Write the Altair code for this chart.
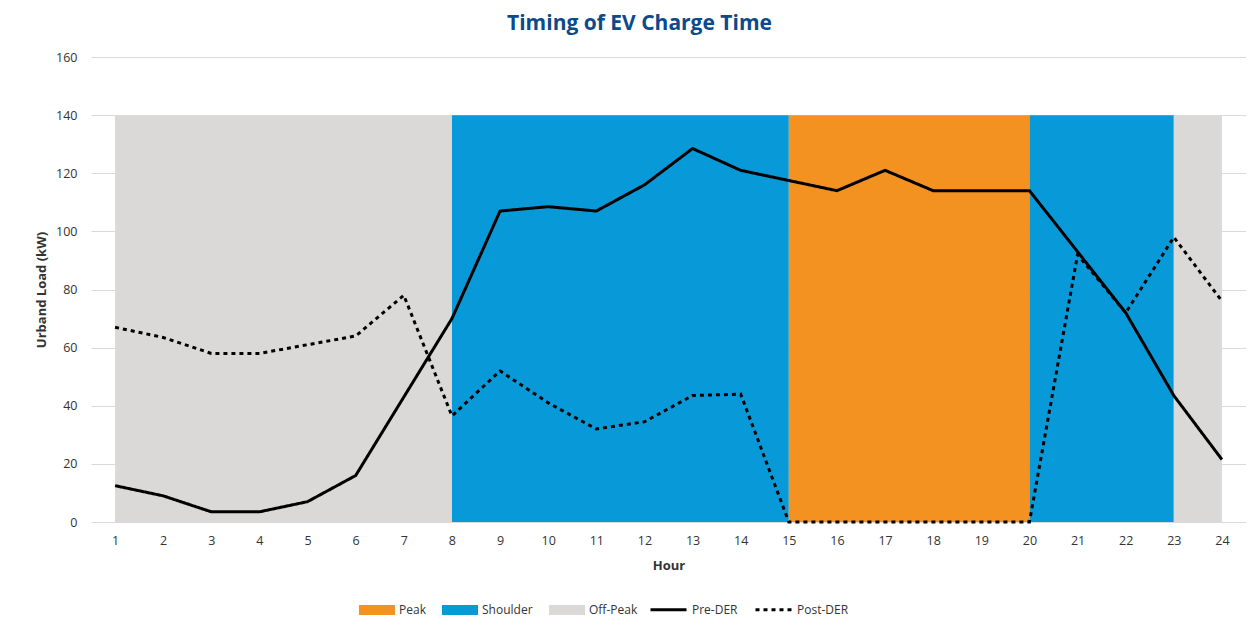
import altair as alt
import pandas as pd

hours = list(range(1, 25))
pre_der = [12.5, 9, 3.5, 3.5, 7, 16, 43, 70, 107, 108.5, 107, 116, 128.5, 121,
           117.5, 114, 121, 114, 114, 114, 93, 72, 43.5, 21.5]
post_der = [67, 63.5, 58, 58, 61, 64, 78, 36.5, 52, 41, 32, 34.5, 43.5, 44,
            0, 0, 0, 0, 0, 0, 92, 72, 98, 76]

period_names = ["Off-Peak", "Shoulder", "Peak", "Shoulder", "Off-Peak"]
period_start = [1, 8, 15, 20, 23]
period_end = [8, 15, 20, 23, 24]
band_top = [140, 140, 140, 140, 140]

legend_periods = ["Peak", "Shoulder", "Off-Peak"]
period_colors = ["#f39121", "#0799d8", "#dad9d7"]
series_names = ["Pre-DER", "Post-DER"]

bands = pd.DataFrame({"period": period_names, "start": period_start,
                      "end": period_end, "top": band_top})
lines = pd.DataFrame({
    "hour": hours + hours,
    "load": pre_der + post_der,
    "series": ["Pre-DER"] * len(hours) + ["Post-DER"] * len(hours),
})

FONT = "Open Sans"
TXT = "#333333"

xscale = alt.Scale(domain=[0.5, 24.5], nice=False, zero=False)
yscale = alt.Scale(domain=[0, 160], nice=False)

band_layer = alt.Chart(bands).mark_rect().encode(
    x=alt.X("start:Q", scale=xscale,
            axis=alt.Axis(values=hours, format="d", title="Hour", grid=False,
                          ticks=False, domain=False, labelPadding=12,
                          titlePadding=13)),
    x2="end:Q",
    y=alt.Y("top:Q", scale=yscale,
            axis=alt.Axis(values=list(range(0, 161, 20)), title="Urband Load (kW)",
                          ticks=False, domain=False, labelPadding=14,
                          titlePadding=7, gridColor="#d9d9d9")),
    y2=alt.datum(0),
    fill=alt.Fill("period:N",
                  scale=alt.Scale(domain=legend_periods, range=period_colors),
                  legend=alt.Legend(title=None, orient="none", direction="horizontal",
                                    legendX=268, legendY=535,
                                    symbolType="M-1,-0.28H1V0.28H-1Z",
                                    symbolSize=1296, symbolStrokeWidth=0,
                                    labelOffset=4, columnPadding=16)),
)

line_layer = alt.Chart(lines).mark_line(strokeWidth=3, color="black").encode(
    x=alt.X("hour:Q", scale=xscale),
    y=alt.Y("load:Q", scale=yscale),
    strokeDash=alt.StrokeDash("series:N",
                              scale=alt.Scale(domain=series_names,
                                              range=[[1, 0], [4, 4]]),
                              legend=alt.Legend(title=None, orient="none",
                                                direction="horizontal",
                                                legendX=558, legendY=533,
                                                symbolType="stroke",
                                                symbolSize=1296,
                                                symbolStrokeWidth=3,
                                                symbolStrokeColor="black",
                                                labelOffset=4, columnPadding=11)),
)

chart = alt.layer(band_layer, line_layer).properties(
    width=1155, height=465,
    autosize=alt.AutoSizeParams(type="none"),
    padding={"left": 83, "top": 49, "right": 0, "bottom": 100},
    title=alt.TitleParams("Timing of EV Charge Time", font=FONT, fontSize=21,
                          fontWeight="bold", color="#0b4a8b", anchor="middle",
                          dx=-29, offset=17),
).configure_view(stroke=None).configure_axis(
    labelFont=FONT, labelFontSize=12.5, labelColor=TXT,
    titleFont=FONT, titleFontSize=13, titleFontWeight="bold", titleColor=TXT,
).configure_legend(
    labelFont=FONT, labelFontSize=12, labelColor=TXT,
)

chart.save("out.html", embed_options={"renderer": "svg", "actions": False})
